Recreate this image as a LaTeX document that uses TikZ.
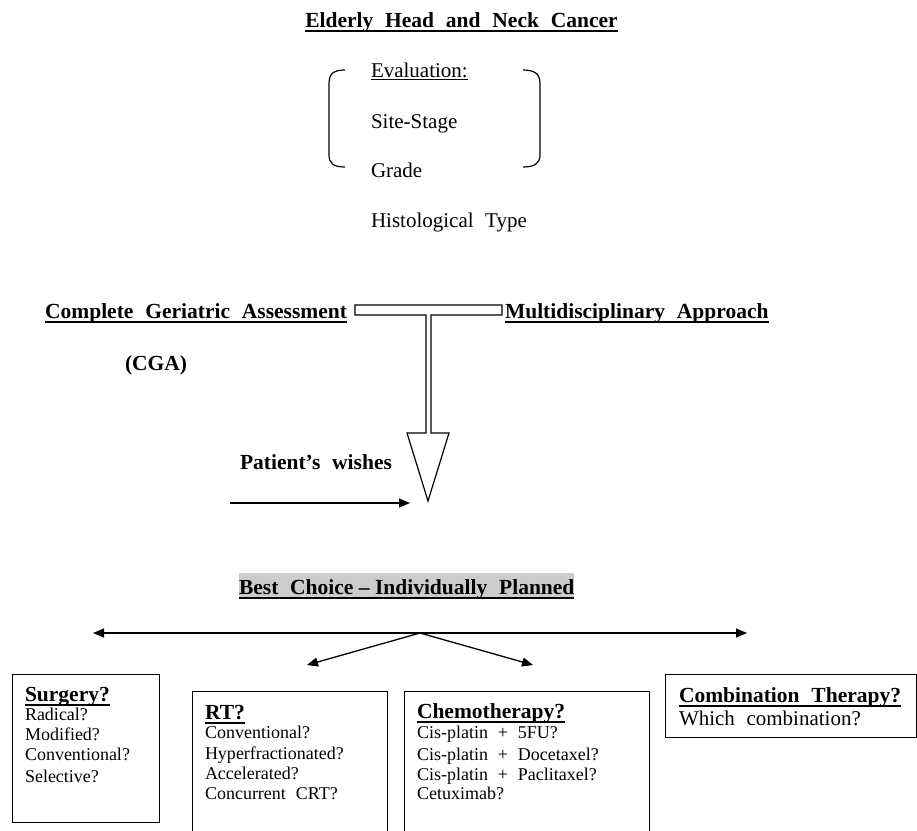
\documentclass[tikz,border=0pt]{standalone}
\usepackage{fontspec}
\setmainfont{Liberation Serif}[WordSpace=2.2]
\usetikzlibrary{arrows.meta}
\definecolor{hl}{RGB}{204,204,204}
\newcommand\fb{\fontsize{21.5}{24}\selectfont\bfseries}
\newcommand\fr{\fontsize{21}{24}\selectfont}
\newcommand\fs{\fontsize{18}{20}\selectfont}
\newcommand\ulb[1]{\setbox0\hbox{#1}\rlap{\rule[-5pt]{\wd0}{2.4pt}}\box0}
\newcommand\ulr[1]{\setbox0\hbox{#1}\rlap{\rule[-3.2pt]{\wd0}{1.1pt}}\box0}
\begin{document}
\begin{tikzpicture}[x=1pt,y=-1pt,
  txt/.style={anchor=base west, inner sep=0pt, outer sep=0pt},
  panel/.style={draw, line width=1pt, anchor=north west, inner sep=0pt},
  conn/.style={line width=1.3pt, -{Triangle[length=11pt,width=9pt]}},
  outline/.style={line width=1.2pt}]
\useasboundingbox (0,0) rectangle (917,830);
\clip (0,0) rectangle (917,830);

% title
\node[txt, anchor=base] (title) at (461.5,27) {\fb\ulb{Elderly Head and Neck Cancer}};

% evaluation brackets
\draw[outline] (345,70) .. controls (333,70) and (329,74) .. (329,84) -- (329,155) .. controls (329,163) and (333,167) .. (345,167);
\draw[outline] (523,70) .. controls (535,70) and (540,74) .. (540,84) -- (540,155) .. controls (540,163) and (535,167) .. (523,167);
\node[txt] (eval) at (371,77) {\fr\ulr{Evaluation:}};
\node[txt] (site) at (371,128) {\fr Site-Stage};
\node[txt] (grade) at (371,177) {\fr Grade};
\node[txt] (hist) at (371,227) {\fr Histological Type};

% CGA / Multidisciplinary
\node[txt, anchor=base east] (cga) at (347,318) {\fb\ulb{Complete Geriatric Assessment}};
\node[txt] (multi) at (505,318) {\fb\ulb{Multidisciplinary Approach}};
\node[txt] (cgaab) at (125,370) {\fb (CGA)};

% T-shaped hollow arrow
\draw[outline, line join=miter] (355,305) -- (502,305) -- (502,315) -- (431,315) -- (431,433) -- (449,433)
  -- (428,501) -- (407,433) -- (426,433) -- (426,315) -- (355,315) -- cycle;

% patient's wishes
\node[txt] (wish) at (240,469) {\fb Patient’s wishes};
\coordinate (wa) at (230,503);
\coordinate (wb) at (410,503);
\draw[conn] (wa) -- (wb);

% best choice
\node[txt, fill=hl, text height=21pt, text depth=5pt] (best) at (239,594)
  {\fb\ulb{Best Choice\hspace{0.25em}–\hspace{0.25em}Individually Planned}};

% distribution arrows
\coordinate (apex) at (420,633);
\coordinate (lt) at (93,633);
\coordinate (rt) at (747,633);
\coordinate (ld) at (307,665);
\coordinate (rd) at (533,665);
\draw[conn, {Triangle[length=11pt,width=9pt]}-{Triangle[length=11pt,width=9pt]}] (lt) -- (rt);
\draw[conn] (apex) -- (ld);
\draw[conn] (apex) -- (rd);

% boxes
\node[panel, minimum width=147pt, minimum height=148pt] (surg) at (12,674) {};
\node[panel, minimum width=195pt, minimum height=170pt] (rtb) at (192,691) {};
\node[panel, minimum width=245pt, minimum height=170pt] (chem) at (404,691) {};
\node[panel, minimum width=251pt, minimum height=63pt] (comb) at (665,674) {};

% surgery text
\node[txt] (s0) at (25,701) {\fb\ulb{Surgery?}};
\node[txt] (s1) at (25,720) {\fs Radical?};
\node[txt] (s2) at (25,740) {\fs Modified?};
\node[txt] (s3) at (25,760) {\fs Conventional?};
\node[txt] (s4) at (25,782) {\fs Selective?};

% RT text
\node[txt] (r0) at (205,719) {\fb\ulb{RT?}};
\node[txt] (r1) at (205,738) {\fs Conventional?};
\node[txt] (r2) at (205,759) {\fs Hyperfractionated?};
\node[txt] (r3) at (205,779) {\fs Accelerated?};
\node[txt] (r4) at (205,799) {\fs Concurrent CRT?};

% chemo text
\node[txt] (c0) at (417,718) {\fb\ulb{Chemotherapy?}};
\node[txt] (c1) at (417,738) {\fs Cis-platin + 5FU?};
\node[txt] (c2) at (417,760) {\fs Cis-platin + Docetaxel?};
\node[txt] (c3) at (417,780) {\fs Cis-platin + Paclitaxel?};
\node[txt] (c4) at (417,799) {\fs Cetuximab?};

% combination text
\node[txt] (k0) at (679,702) {\fb\ulb{Combination Therapy?}};
\node[txt] (k1) at (679,725) {\fr Which combination?};
\end{tikzpicture}
\end{document}
